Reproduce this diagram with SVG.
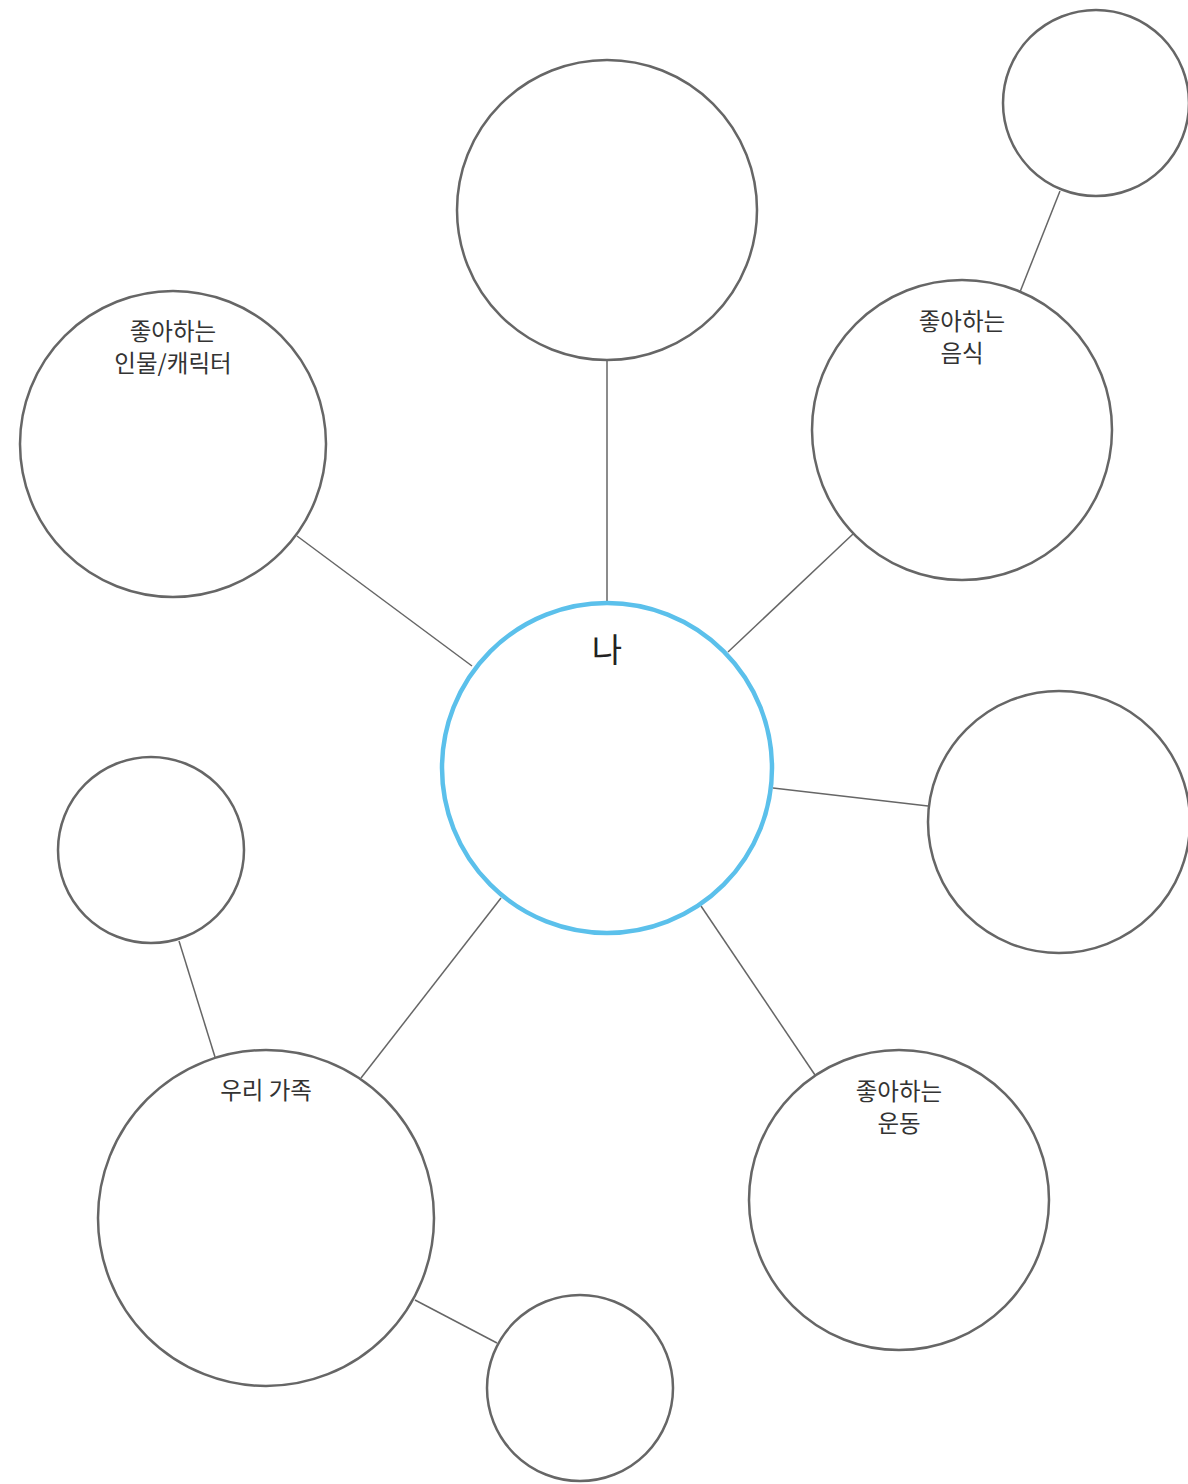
<svg xmlns="http://www.w3.org/2000/svg" width="1188" height="1484" viewBox="0 0 1188 1484">
<style>
.n{fill:#fff;stroke:#666;stroke-width:2.5}
.c{fill:#fff;stroke:#5BC0EB;stroke-width:4.5}
.e{stroke:#666;stroke-width:1.5;fill:none}
.t{font-family:"Noto Sans CJK KR","Noto Sans",sans-serif;font-size:23.5px;fill:#333;text-anchor:middle}
.tc{font-family:"Noto Sans CJK KR","Noto Sans",sans-serif;font-size:33px;fill:#222;text-anchor:middle}
</style>
<rect width="1188" height="1484" fill="#fff"/>
<g id="connectors">
<line class="e" x1="607" y1="360" x2="607" y2="602"/>
<line class="e" x1="297" y1="536" x2="472" y2="666"/>
<line class="e" x1="853" y1="534" x2="728" y2="652"/>
<line class="e" x1="1060" y1="191" x2="1020" y2="292"/>
<line class="e" x1="773" y1="788" x2="928" y2="806"/>
<line class="e" x1="501" y1="898" x2="361" y2="1078"/>
<line class="e" x1="701" y1="906" x2="815" y2="1075"/>
<line class="e" x1="179" y1="941" x2="215" y2="1057"/>
<line class="e" x1="415" y1="1300" x2="497" y2="1343"/>
</g>
<g id="center"><circle class="c" cx="607" cy="768" r="165"/><text class="tc" x="607" y="662">나</text></g>
<g id="top"><circle class="n" cx="607" cy="210" r="150"/></g>
<g id="topright-small"><circle class="n" cx="1096" cy="103" r="93"/></g>
<g id="food"><circle class="n" cx="962" cy="430" r="150"/><text class="t" x="962" y="330">좋아하는</text><text class="t" x="962" y="362">음식</text></g>
<g id="character"><circle class="n" cx="173" cy="444" r="153"/><text class="t" x="173" y="340">좋아하는</text><text class="t" x="173" y="372">인물/캐릭터</text></g>
<g id="right"><circle class="n" cx="1059" cy="822" r="131"/></g>
<g id="left-small"><circle class="n" cx="151" cy="850" r="93"/></g>
<g id="family"><circle class="n" cx="266" cy="1218" r="168"/><text class="t" x="266" y="1099">우리 가족</text></g>
<g id="bottom-small"><circle class="n" cx="580" cy="1388" r="93"/></g>
<g id="sport"><circle class="n" cx="899" cy="1200" r="150"/><text class="t" x="899" y="1100">좋아하는</text><text class="t" x="899" y="1132">운동</text></g>
</svg>
